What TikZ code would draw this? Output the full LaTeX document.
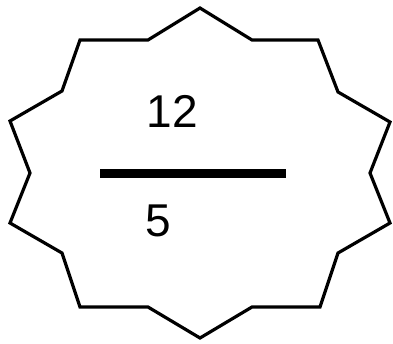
\documentclass[tikz,border=0pt]{standalone}
\usepackage{fontspec}
\setmainfont{Liberation Sans}
\usepackage{tikz}

\begin{document}
\begin{tikzpicture}[x=1pt,y=-1pt]

\useasboundingbox (0,0) rectangle (393,343);

% star outline
\draw[line width=3.2pt, line join=miter]
  (200,8) -- (148,40) -- (80,40) -- (62,91) -- (10,121) -- (30,173)
  -- (10,223) -- (62,253) -- (80,307) -- (148,307) -- (200,338)
  -- (252,307) -- (320,307) -- (338,253) -- (390,223) -- (370,173)
  -- (390,122) -- (338,92) -- (318,40) -- (252,40) -- cycle;

% fraction bar
\fill (100,169) rectangle (286,178);

\node[inner sep=0pt, font=\fontsize{46}{46}\selectfont] (num) at (172.5,111.5) {12};
\node[inner sep=0pt, font=\fontsize{46}{46}\selectfont] (den) at (158.5,221) {5};

\end{tikzpicture}
\end{document}
